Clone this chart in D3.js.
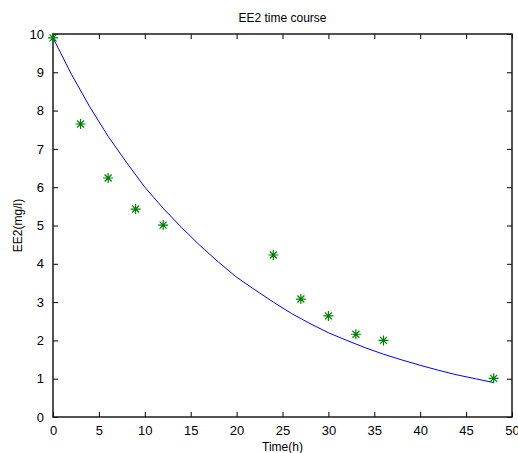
<!DOCTYPE html>
<html>
<head>
<meta charset="utf-8">
<script src="https://cdn.jsdelivr.net/npm/d3@7"></script>
<style>
  body { margin: 0; background: #fff; }
  text { font-family: "Liberation Sans", Arial, sans-serif; fill: #000; }
</style>
</head>
<body>
<svg id="chart" width="518" height="453"></svg>
<script>
// measured concentrations
const measTime = [0, 3, 6, 9, 12, 24, 27, 30, 33, 36, 48];
const measConc = [9.9, 7.65, 6.24, 5.43, 5.01, 4.23, 3.08, 2.64, 2.16, 2.0, 1.01];

// model curve
const fitTime = [0, 2, 4, 6, 8, 10, 12, 14, 16, 18, 20, 22, 24, 26, 28, 30, 32, 34, 36, 38, 40, 42, 44, 46, 48];
const fitConc = [9.9, 8.95, 8.1, 7.33, 6.65, 6.0, 5.45, 4.95, 4.48, 4.05, 3.65, 3.32, 3.0, 2.7, 2.44, 2.2, 2.0, 1.81, 1.64, 1.49, 1.35, 1.22, 1.1, 1.0, 0.9];

const xTicks = [0, 5, 10, 15, 20, 25, 30, 35, 40, 45, 50];
const yTicks = [0, 1, 2, 3, 4, 5, 6, 7, 8, 9, 10];

const svg = d3.select("#chart");
const plotL = 53, plotR = 512, plotT = 34, plotB = 417;

const x = d3.scaleLinear().domain([0, 50]).range([plotL, plotR]);
const y = d3.scaleLinear().domain([0, 10]).range([plotB, plotT]);

// ticks on all four sides, pointing inward
svg.append("g").attr("transform", `translate(0,${plotB})`)
  .call(d3.axisBottom(x).tickValues(xTicks).tickSize(-5).tickPadding(9))
  .call(g => g.select(".domain").remove())
  .call(g => g.selectAll("text").style("font-size", "13px"));
svg.append("g").attr("transform", `translate(0,${plotT})`)
  .call(d3.axisTop(x).tickValues(xTicks).tickSize(-5).tickFormat(""))
  .call(g => g.select(".domain").remove());
svg.append("g").attr("transform", `translate(${plotL},0)`)
  .call(d3.axisLeft(y).tickValues(yTicks).tickSize(-5).tickPadding(9))
  .call(g => g.select(".domain").remove())
  .call(g => g.selectAll("text").style("font-size", "13px"));
svg.append("g").attr("transform", `translate(${plotR},0)`)
  .call(d3.axisRight(y).tickValues(yTicks).tickSize(-5).tickFormat(""))
  .call(g => g.select(".domain").remove());

svg.selectAll(".tick line").attr("stroke", "#000");

svg.append("rect")
  .attr("x", plotL).attr("y", plotT)
  .attr("width", plotR - plotL).attr("height", plotB - plotT)
  .attr("fill", "none").attr("stroke", "#1a1a1a").attr("stroke-width", 1.5);

// curve
const line = d3.line().x(d => x(d[0])).y(d => y(d[1]));
svg.append("path")
  .datum(fitTime.map((t, i) => [t, fitConc[i]]))
  .attr("d", line)
  .attr("fill", "none")
  .attr("stroke", "#0000ff")
  .attr("stroke-width", 1);

// asterisk markers
const star = "M-5,0L5,0M0,-5L0,5M-3.5,-3.5L3.5,3.5M-3.5,3.5L3.5,-3.5";
svg.selectAll(".pt")
  .data(measTime.map((t, i) => [t, measConc[i]]))
  .enter().append("path")
  .attr("class", "pt")
  .attr("transform", d => `translate(${x(d[0])},${y(d[1])})`)
  .attr("d", star)
  .attr("stroke", "#008000")
  .attr("stroke-width", 1.2)
  .attr("fill", "none");

svg.append("text")
  .attr("x", (plotL + plotR) / 2).attr("y", 22)
  .attr("text-anchor", "middle").style("font-size", "12px")
  .text("EE2 time course");

svg.append("text")
  .attr("x", (plotL + plotR) / 2).attr("y", 451)
  .attr("text-anchor", "middle").style("font-size", "12px")
  .text("Time(h)");

svg.append("text")
  .attr("transform", `translate(22,${(plotT + plotB) / 2}) rotate(-90)`)
  .attr("text-anchor", "middle").style("font-size", "12px")
  .text("EE2(mg/l)");
</script>
</body>
</html>
